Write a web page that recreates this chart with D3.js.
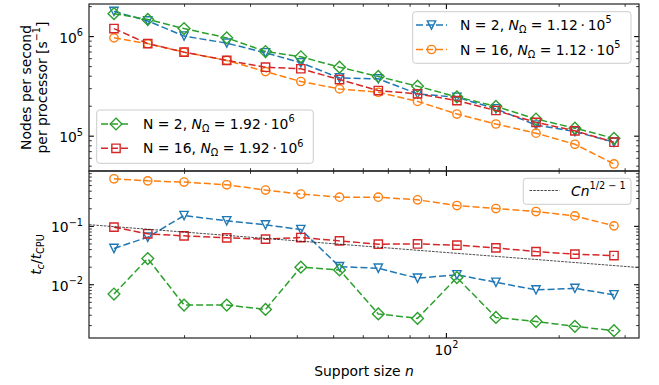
<!DOCTYPE html>
<html><head><meta charset="utf-8">
<script src="https://cdn.jsdelivr.net/npm/d3@7"></script>
<style>
body{margin:0;background:#fff}
svg{display:block}
text{font-family:"DejaVu Sans",sans-serif;white-space:pre;fill:#000}
</style>
</head><body>
<svg id="chart" width="659" height="385"></svg>
<script>
// ---------------- data ----------------
const supportSize = [13, 16, 20, 26, 33, 41, 52, 66, 84, 107, 136, 174, 221, 281];

// Nodes per second per processor
const rateN2Small  = [1.77e6, 1.42e6, 1.0e6, 8.5e5, 6.8e5, 5.4e5, 3.8e5, 3.72e5, 2.63e5, 2.43e5, 1.86e5, 1.28e5, 1.10e5, 8.6e4];
const rateN16Small = [9.6e5, 8.4e5, 6.9e5, 5.7e5, 4.4e5, 3.5e5, 2.95e5, 2.73e5, 2.21e5, 1.65e5, 1.31e5, 1.06e5, 8.2e4, 5.2e4];
const rateN2Large  = [1.68e6, 1.47e6, 1.19e6, 9.6e5, 7.0e5, 6.2e5, 4.87e5, 3.93e5, 3.14e5, 2.45e5, 1.97e5, 1.47e5, 1.19e5, 9.4e4];
const rateN16Large = [1.19e6, 8.4e5, 6.9e5, 5.7e5, 4.87e5, 4.7e5, 3.66e5, 2.84e5, 2.63e5, 2.25e5, 1.79e5, 1.36e5, 1.12e5, 8.6e4];

// t_c / t_CPU
const ratioN2Small  = [0.041, 0.064, 0.150, 0.122, 0.104, 0.0865, 0.020, 0.0188, 0.0127, 0.0145, 0.0108, 0.0080, 0.0085, 0.0066];
const ratioN16Small = [0.64, 0.59, 0.562, 0.505, 0.41, 0.35, 0.31, 0.31, 0.279, 0.223, 0.198, 0.176, 0.148, 0.100];
const ratioN2Large  = [0.0068, 0.0275, 0.0044, 0.0044, 0.0037, 0.0196, 0.0176, 0.0031, 0.0026, 0.0130, 0.0027, 0.0023, 0.0019, 0.0016];
const ratioN16Large = [0.095, 0.073, 0.0674, 0.0623, 0.0592, 0.063, 0.0553, 0.0485, 0.049, 0.0467, 0.042, 0.0362, 0.0327, 0.031];

const refConstant = 0.35;       // C in C n^(1/2 - 1)
const refExponent = 0.5 - 1;

const xLimits = [11.15, 327.7];
const rateLimits = [4.42e4, 2.1e6];
const ratioLimits = [1.2e-3, 0.87];

const xMajorTicks = [100];
const xMinorTicks = [20, 30, 40, 50, 60, 70, 80, 90, 200, 300];
const rateMajorTicks = [1e5, 1e6];
const rateMinorTicks = [5e4, 6e4, 7e4, 8e4, 9e4, 2e5, 3e5, 4e5, 5e5, 6e5, 7e5, 8e5, 9e5, 2e6];
const ratioMajorTicks = [1e-2, 1e-1];
const ratioMinorTicks = [2e-3, 3e-3, 4e-3, 5e-3, 6e-3, 7e-3, 8e-3, 9e-3, 2e-2, 3e-2, 4e-2, 5e-2, 6e-2, 7e-2, 8e-2, 9e-2, 2e-1, 3e-1, 4e-1, 5e-1, 6e-1, 7e-1, 8e-1];

const seriesColors = ["#1f77b4", "#ff7f0e", "#2ca02c", "#d62728"];
const seriesMarkers = ["v", "o", "D", "s"];
const seriesN = ["2", "16", "2", "16"];
const seriesNOmega = ["1.12", "1.12", "1.92", "1.92"];
const seriesNOmegaExp = ["5", "5", "6", "6"];
const rateSeries = [rateN2Small, rateN16Small, rateN2Large, rateN16Large];
const ratioSeries = [ratioN2Small, ratioN16Small, ratioN2Large, ratioN16Large];

// ---------------- layout ----------------
const FS = 13.9;
const L = 89, R = 639, T1 = 4, B1 = 171, T2 = 171, B2 = 338;
const svg = d3.select("#chart");

const x = d3.scaleLog().domain(xLimits).range([L, R]);
const y1 = d3.scaleLog().domain(rateLimits).range([B1, T1]);
const y2 = d3.scaleLog().domain(ratioLimits).range([B2, T2]);

const MS = 8.33;
function markerPath(m) {
  const h = MS / 2, d = MS * 0.7071;
  if (m === "v") return `M0,${h}L${-h},${-h}L${h},${-h}Z`;
  if (m === "s") return `M${-h},${-h}H${h}V${h}H${-h}Z`;
  return `M0,${-d}L${d},0L0,${d}L${-d},0Z`;
}
function drawMarker(g, m, color) {
  if (m === "o") {
    return g.append("circle").attr("r", MS / 2).attr("fill", "none")
      .attr("stroke", color).attr("stroke-width", 1.39);
  }
  return g.append("path").attr("d", markerPath(m)).attr("fill", "none")
    .attr("stroke", color).attr("stroke-width", 1.39).attr("stroke-linejoin", "miter");
}

// rich text helper
function rich(textSel, parts, fs) {
  let cur = 0;
  parts.forEach(p => {
    const off = p.sup ? -0.47 * fs : (p.sub ? 0.22 * fs : 0);
    const t = textSel.append("tspan").text(p.t);
    if (off !== cur) t.attr("dy", off - cur);
    cur = off;
    if (p.sup || p.sub) t.attr("font-size", fs * 0.7);
    if (p.i) t.attr("font-style", "italic");
  });
}

// ---------------- panels ----------------
function drawAxes(yScale, top, bottom, majors, minors, majorLabels, showX) {
  const g = svg.append("g");
  const maj = 4.9, mnr = 2.8;
  const styleAx = (sel, w) => {
    sel.select(".domain").remove();
    sel.selectAll("line").attr("stroke", "#000").attr("stroke-width", w);
  };
  const la = g.append("g").attr("transform", `translate(${L},0)`)
    .call(d3.axisLeft(yScale).tickValues(majors).tickSize(-maj).tickPadding(6).tickFormat(() => ""));
  styleAx(la, 1.1);
  la.selectAll(".tick text").each(function(d, i) {
    const t = d3.select(this).attr("dy", null).attr("y", 6).attr("font-size", FS)
      .attr("font-family", null).attr("fill", "#000");
    rich(t, [{t: "10"}, {t: majorLabels[i], sup: true}], FS);
  });
  styleAx(g.append("g").attr("transform", `translate(${L},0)`)
    .call(d3.axisLeft(yScale).tickValues(minors).tickSize(-mnr).tickFormat(() => "")), 0.8);
  styleAx(g.append("g").attr("transform", `translate(${R},0)`)
    .call(d3.axisRight(yScale).tickValues(majors).tickSize(-maj).tickFormat(() => "")), 1.1);
  styleAx(g.append("g").attr("transform", `translate(${R},0)`)
    .call(d3.axisRight(yScale).tickValues(minors).tickSize(-mnr).tickFormat(() => "")), 0.8);
  styleAx(g.append("g").attr("transform", `translate(0,${top})`)
    .call(d3.axisTop(x).tickValues(xMajorTicks).tickSize(-maj).tickFormat(() => "")), 1.1);
  styleAx(g.append("g").attr("transform", `translate(0,${top})`)
    .call(d3.axisTop(x).tickValues(xMinorTicks).tickSize(-mnr).tickFormat(() => "")), 0.8);
  const ba = g.append("g").attr("transform", `translate(0,${bottom})`)
    .call(d3.axisBottom(x).tickValues(xMajorTicks).tickSize(-maj).tickPadding(6).tickFormat(() => ""));
  styleAx(ba, 1.1);
  if (showX) {
    ba.selectAll(".tick text").each(function() {
      const t = d3.select(this).attr("dy", null).attr("y", 17).attr("font-size", FS)
        .attr("font-family", null).attr("fill", "#000");
      rich(t, [{t: "10"}, {t: "2", sup: true}], FS);
    });
  }
  styleAx(g.append("g").attr("transform", `translate(0,${bottom})`)
    .call(d3.axisBottom(x).tickValues(xMinorTicks).tickSize(-mnr).tickFormat(() => "")), 0.8);
  return g;
}

function drawSeries(yScale, data, top, bottom, clipId) {
  svg.append("clipPath").attr("id", clipId).append("rect")
    .attr("x", L).attr("y", top).attr("width", R - L).attr("height", bottom - top);
  const g = svg.append("g").attr("clip-path", `url(#${clipId})`);
  const line = d3.line().x((d, i) => x(supportSize[i])).y(d => yScale(d));
  data.forEach((vals, k) => {
    const s = g.append("g");
    s.append("path").attr("d", line(vals)).attr("fill", "none")
      .attr("stroke", seriesColors[k]).attr("stroke-width", 1.5)
      .attr("stroke-dasharray", "7,3");
    vals.forEach((v, i) => {
      const mg = s.append("g").attr("transform", `translate(${x(supportSize[i])},${yScale(v)})`);
      drawMarker(mg, seriesMarkers[k], seriesColors[k]);
    });
  });
  return g;
}

drawSeries(y1, rateSeries, T1, B1, "clipTop");
const gb = drawSeries(y2, ratioSeries, T2, B2, "clipBot");
const refLine = d3.line().x(d => x(d)).y(d => y2(refConstant * Math.pow(d, refExponent)));
gb.append("path").attr("d", refLine(xLimits)).attr("fill", "none")
  .attr("stroke", "#000").attr("stroke-width", 0.7).attr("stroke-dasharray", "2.6,1.1");

drawAxes(y1, T1, B1, rateMajorTicks, rateMinorTicks, ["5", "6"], false);
drawAxes(y2, T2, B2, ratioMajorTicks, ratioMinorTicks, ["\u22122", "\u22121"], true);

[[T1, B1], [T2, B2]].forEach(([t, b]) => {
  svg.append("rect").attr("x", L).attr("y", t).attr("width", R - L).attr("height", b - t)
    .attr("fill", "none").attr("stroke", "#222").attr("stroke-width", 1.2);
});

// ---------------- legends ----------------
function legendBox(x0, y0, w, h) {
  svg.append("rect").attr("x", x0).attr("y", y0).attr("width", w).attr("height", h)
    .attr("rx", 3).attr("fill", "#fff").attr("fill-opacity", 0.8)
    .attr("stroke", "#cccccc").attr("stroke-width", 1);
}
function legendEntry(k, hx0, hx1, cy, tx) {
  svg.append("line").attr("x1", hx0).attr("x2", hx1).attr("y1", cy).attr("y2", cy)
    .attr("stroke", seriesColors[k]).attr("stroke-width", 1.5).attr("stroke-dasharray", "7,3");
  const mg = svg.append("g").attr("transform", `translate(${(hx0 + hx1) / 2},${cy})`);
  drawMarker(mg, seriesMarkers[k], seriesColors[k]);
  const t = svg.append("text").attr("x", tx).attr("y", cy + 5).attr("font-size", FS);
  rich(t, [
    {t: `N = ${seriesN[k]}, `}, {t: "N", i: true}, {t: "\u03A9", sub: true},
    {t: ` = ${seriesNOmega[k]}\u2009\u00B7\u200910`}, {t: seriesNOmegaExp[k], sup: true}
  ], FS);
}
legendBox(412.7, 11.7, 218.3, 51.6);
legendEntry(0, 416, 447, 25, 460);
legendEntry(1, 416, 447, 49.5, 460);

legendBox(96.7, 110, 216.6, 53.3);
legendEntry(2, 101, 131, 124, 143);
legendEntry(3, 101, 131, 148.3, 143);

legendBox(523.3, 178.3, 107.7, 26);
svg.append("line").attr("x1", 529.5).attr("x2", 559.5).attr("y1", 190.5).attr("y2", 190.5)
  .attr("stroke", "#000").attr("stroke-width", 0.7).attr("stroke-dasharray", "2.6,1.1");
rich(svg.append("text").attr("x", 571).attr("y", 195.5).attr("font-size", FS),
  [{t: "Cn", i: true}, {t: "1/2 \u2212 1", sup: true}], FS);

// ---------------- axis titles ----------------
svg.append("text").attr("transform", `translate(30.5,${(T1 + B1) / 2}) rotate(-90)`)
  .attr("text-anchor", "middle").attr("font-size", FS).text("Nodes per second");
const yl2 = svg.append("text").attr("transform", `translate(46.5,${(T1 + B1) / 2}) rotate(-90)`)
  .attr("text-anchor", "middle").attr("font-size", FS);
rich(yl2, [{t: "per processor [s"}, {t: "\u22121", sup: true}, {t: "]"}], FS);

const yl3 = svg.append("text").attr("transform", `translate(41,${(T2 + B2) / 2}) rotate(-90)`)
  .attr("text-anchor", "middle").attr("font-size", FS);
rich(yl3, [{t: "t", i: true}, {t: "c", i: true, sub: true}, {t: "/"}, {t: "t", i: true}, {t: "CPU", sub: true}], FS);

const xl = svg.append("text").attr("x", (L + R) / 2).attr("y", 376).attr("text-anchor", "middle").attr("font-size", FS);
rich(xl, [{t: "Support size "}, {t: "n", i: true}], FS);
</script>
</body></html>
